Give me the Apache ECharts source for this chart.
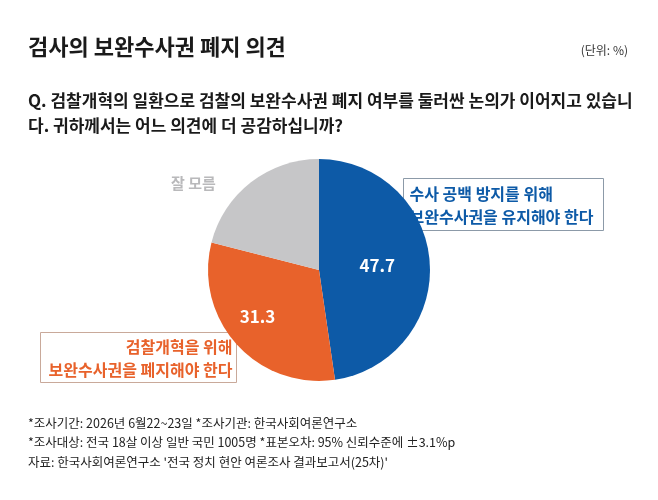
<!DOCTYPE html>
<html>
<head>
<meta charset="utf-8">
<script src="https://cdn.jsdelivr.net/npm/echarts@6/dist/echarts.min.js"></script>
<style>
  html, body { margin: 0; padding: 0; background: #fff; }
  #chart { width: 658px; height: 500px; }
</style>
</head>
<body>
<div id="chart"></div>
<script>
// 응답 항목, 비율(%)
const categories = ["보완수사권 유지", "보완수사권 폐지", "잘 모름"]
const values = [47.7, 31.3, 21.0]
const colors = ["#0d5aa7", "#e8622b", "#c6c6c8"]
const showValue = [true, true, false]

const font = "'Noto Sans CJK KR', 'Noto Sans', sans-serif"

const chart = echarts.init(document.getElementById("chart"))

const option = {
  backgroundColor: "#fff",
  animation: false,
  textStyle: { fontFamily: font },
  graphic: [
    {
      type: "text",
      left: 28,
      top: 36,
      style: { text: "검사의 보완수사권 폐지 의견", font: "bold 22px " + font, fill: "#1a1a1a" }
    },
    {
      type: "text",
      right: 30,
      top: 44,
      style: { text: "(단위: %)", font: "12px " + font, fill: "#333" }
    },
    {
      type: "text",
      left: 28,
      top: 88,
      style: {
        text: "Q. 검찰개혁의 일환으로 검찰의 보완수사권 폐지 여부를 둘러싼 논의가 이어지고 있습니\n다. 귀하께서는 어느 의견에 더 공감하십니까?",
        font: "bold 17px " + font,
        fill: "#1a1a1a",
        lineHeight: 25
      }
    },
    // 유지 의견 박스
    {
      type: "group",
      left: 403,
      top: 178,
      children: [
        { type: "rect", shape: { x: 0, y: 0, width: 200, height: 52 },
          style: { fill: "#fff", stroke: "#8c9aa8", lineWidth: 1 } },
        { type: "text", x: 6, y: 4,
          style: { text: "수사 공백 방지를 위해\n보완수사권을 유지해야 한다",
            font: "bold 16px " + font, fill: colors[0], lineHeight: 23 } }
      ]
    },
    // 폐지 의견 박스
    {
      type: "group",
      left: 40,
      top: 332,
      children: [
        { type: "rect", shape: { x: 0, y: 0, width: 196, height: 50 },
          style: { fill: "#fff", stroke: "#c9a99a", lineWidth: 1 } },
        { type: "text", x: 192, y: 3,
          style: { text: "검찰개혁을 위해\n보완수사권을 폐지해야 한다", align: "right",
            font: "bold 16px " + font, fill: colors[1], lineHeight: 23 } }
      ]
    },
    {
      type: "text",
      left: 171,
      top: 176,
      style: { text: "잘 모름", font: "bold 15px " + font, fill: "#b9b9bb" }
    },
    {
      type: "text",
      left: 28,
      top: 413,
      style: {
        text: "*조사기간: 2026년 6월22~23일 *조사기관: 한국사회여론연구소\n*조사대상: 전국 18살 이상 일반 국민 1005명 *표본오차: 95% 신뢰수준에 ±3.1%p\n자료: 한국사회여론연구소 '전국 정치 현안 여론조사 결과보고서(25차)'",
        font: "12.5px " + font,
        fill: "#222",
        lineHeight: 19.5
      }
    }
  ],
  series: [
    {
      type: "pie",
      center: [319, 270],
      radius: [0, 111],
      startAngle: 90,
      clockwise: true,
      silent: true,
      label: {
        position: "inside",
        color: "#fff",
        fontSize: 17,
        fontWeight: "bold",
        fontFamily: font,
        formatter: p => showValue[p.dataIndex] ? p.value.toFixed(1) : ""
      },
      labelLine: { show: false },
      itemStyle: { borderWidth: 0 },
      data: categories.map((name, i) => ({
        name,
        value: values[i],
        itemStyle: { color: colors[i] },
        label: i === 1 ? { offset: [-18, 7] } : {}
      }))
    }
  ]
}

chart.setOption(option)
</script>
</body>
</html>
